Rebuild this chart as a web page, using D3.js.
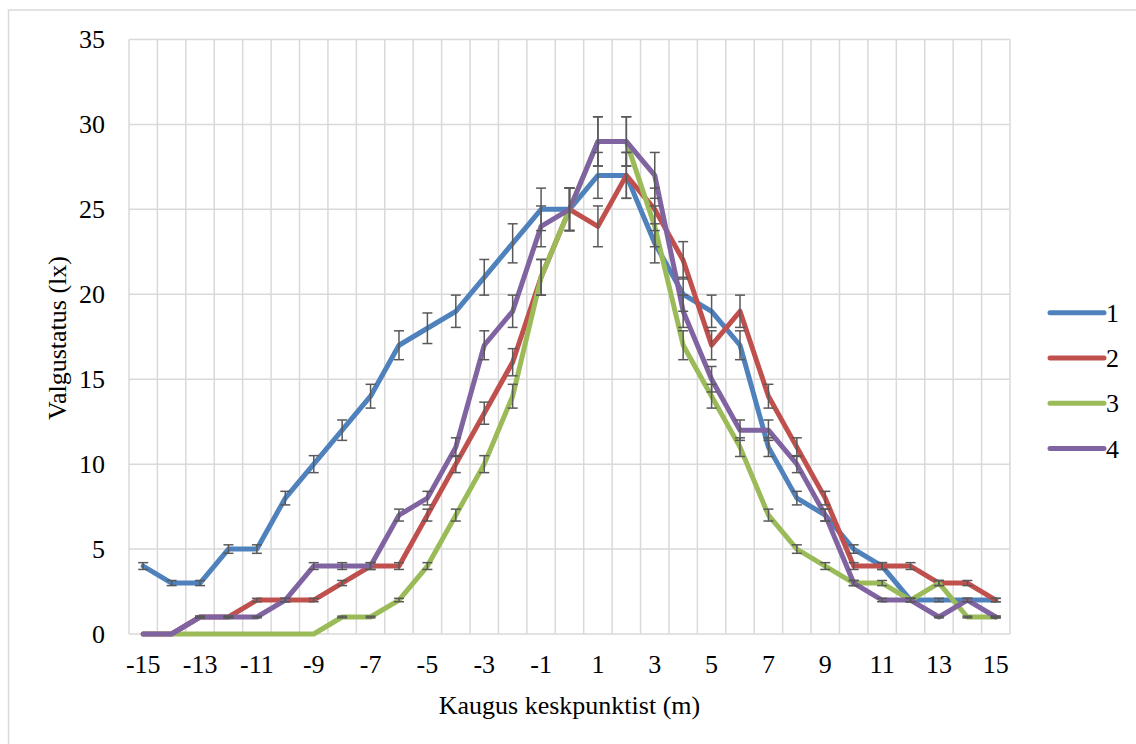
<!DOCTYPE html>
<html>
<head>
<meta charset="utf-8">
<script src="https://cdn.jsdelivr.net/npm/d3@7"></script>
<style>
  body { margin: 0; background: #fff; }
  svg text { font-family: "Times New Roman", "Liberation Serif", Tinos, "DejaVu Serif", "Noto Serif", serif; }
</style>
</head>
<body>
<svg width="1136" height="744"></svg>
<script>
// kaugused keskpunktist (m)
var distances = d3.range(-15, 16);
var xTickLabels = [-15, -13, -11, -9, -7, -5, -3, -1, 1, 3, 5, 7, 9, 11, 13, 15];
var yTicks = [0, 5, 10, 15, 20, 25, 30, 35];

// mõõtmiste seeriad
var seriesNames = ["1", "2", "3", "4"];
var s1 = [4, 3, 3, 5, 5, 8, 10, 12, 14, 17, 18, 19, 21, 23, 25, 25, 27, 27, 23, 20, 19, 17, 11, 8, 7, 5, 4, 2, 2, 2, 2];
var s2 = [0, 0, 1, 1, 2, 2, 2, 3, 4, 4, 7, 10, 13, 16, 21, 25, 24, 27, 25, 22, 17, 19, 14, 11, 8, 4, 4, 4, 3, 3, 2];
var s3 = [0, 0, 0, 0, 0, 0, 0, 1, 1, 2, 4, 7, 10, 14, 21, 25, 29, 29, 24, 17, 14, 11, 7, 5, 4, 3, 3, 2, 3, 1, 1];
var s4 = [0, 0, 1, 1, 1, 2, 4, 4, 4, 7, 8, 11, 17, 19, 24, 25, 29, 29, 27, 19, 15, 12, 12, 10, 7, 3, 2, 2, 1, 2, 1];
var seriesValues = [s1, s2, s3, s4];
var errorPct = 0.05; // veapiirid 5%

var svg = d3.select("svg"),
    margin = {top: 39.5, left: 129, right: 126, bottom: 110},
    width = +svg.attr("width") - margin.left - margin.right,
    height = +svg.attr("height") - margin.top - margin.bottom;

// välimine raam
svg.append("rect")
    .attr("x", 8.5).attr("y", 10)
    .attr("width", 1140).attr("height", 760)
    .attr("fill", "none")
    .attr("stroke", "#d9d9d9")
    .attr("stroke-width", 1.5);

var g = svg.append("g").attr("transform", "translate(" + margin.left + "," + margin.top + ")");

var x = d3.scaleBand()
    .domain(distances)
    .range([0, width]);

var y = d3.scaleLinear()
    .domain([0, 35])
    .range([height, 0]);

var color = d3.scaleOrdinal()
    .domain(seriesNames)
    .range(["#4f81bd", "#c0504d", "#9bbb59", "#8064a2"]);

function cx(d) { return x(d) + x.bandwidth() / 2; }

// vertikaalsed ruudujooned kategooriate vahel
g.append("g")
    .selectAll("line")
    .data(d3.range(distances.length + 1))
    .enter().append("line")
    .attr("x1", function(i) { return i * x.bandwidth(); })
    .attr("x2", function(i) { return i * x.bandwidth(); })
    .attr("y1", 0)
    .attr("y2", height)
    .attr("stroke", "#d9d9d9")
    .attr("stroke-width", 1.5);

// horisontaalsed ruudujooned
g.append("g")
    .selectAll("line")
    .data(yTicks)
    .enter().append("line")
    .attr("x1", 0)
    .attr("x2", width)
    .attr("y1", function(d) { return y(d); })
    .attr("y2", function(d) { return y(d); })
    .attr("stroke", "#d9d9d9")
    .attr("stroke-width", 1.5);

// Y telg
var yAxis = g.append("g")
    .call(d3.axisLeft(y).tickValues(yTicks).tickSize(0).tickPadding(24));
yAxis.attr("font-family", null).attr("font-size", null);
yAxis.select(".domain").remove();
yAxis.selectAll("text")
    .attr("font-size", 26)
    .attr("fill", "#000");

// X telg
var xAxis = g.append("g")
    .attr("transform", "translate(0," + height + ")")
    .call(d3.axisBottom(x).tickValues(xTickLabels).tickSize(0).tickPadding(21));
xAxis.attr("font-family", null).attr("font-size", null);
xAxis.select(".domain").remove();
xAxis.selectAll("text")
    .attr("font-size", 26)
    .attr("fill", "#000");

// jooned
var line = d3.line()
    .x(function(d) { return cx(d.x); })
    .y(function(d) { return y(d.v); });

var data = seriesNames.map(function(name, i) {
    return {
        name: name,
        points: distances.map(function(d, j) { return {x: d, v: seriesValues[i][j]}; })
    };
});

g.append("g")
    .selectAll("path")
    .data(data)
    .enter().append("path")
    .attr("d", function(d) { return line(d.points); })
    .attr("fill", "none")
    .attr("stroke", function(d) { return color(d.name); })
    .attr("stroke-width", 5)
    .attr("stroke-linejoin", "round")
    .attr("stroke-linecap", "round");

// veapiirid
var errs = [];
data.forEach(function(s) {
    s.points.forEach(function(p) { if (p.v > 0) errs.push(p); });
});

var eb = g.append("g")
    .attr("stroke", "#595959")
    .attr("stroke-width", 1.5)
    .selectAll("g")
    .data(errs)
    .enter().append("g");

eb.append("line")
    .attr("x1", function(d) { return cx(d.x); })
    .attr("x2", function(d) { return cx(d.x); })
    .attr("y1", function(d) { return y(d.v * (1 + errorPct)); })
    .attr("y2", function(d) { return y(d.v * (1 - errorPct)); });

eb.append("line")
    .attr("x1", function(d) { return cx(d.x) - 5; })
    .attr("x2", function(d) { return cx(d.x) + 5; })
    .attr("y1", function(d) { return y(d.v * (1 + errorPct)); })
    .attr("y2", function(d) { return y(d.v * (1 + errorPct)); });

eb.append("line")
    .attr("x1", function(d) { return cx(d.x) - 5; })
    .attr("x2", function(d) { return cx(d.x) + 5; })
    .attr("y1", function(d) { return y(d.v * (1 - errorPct)); })
    .attr("y2", function(d) { return y(d.v * (1 - errorPct)); });

// telgede pealkirjad
svg.append("text")
    .attr("x", margin.left + width / 2)
    .attr("y", 714)
    .attr("text-anchor", "middle")
    .attr("font-size", 26)
    .text("Kaugus keskpunktist (m)");

svg.append("text")
    .attr("transform", "translate(66,338) rotate(-90)")
    .attr("text-anchor", "middle")
    .attr("font-size", 26)
    .text("Valgustatus (lx)");

// legend
var legend = svg.append("g")
    .selectAll("g")
    .data(seriesNames)
    .enter().append("g")
    .attr("transform", function(d, i) { return "translate(1050," + (312.7 + i * 45.3) + ")"; });

legend.append("line")
    .attr("x1", 0)
    .attr("x2", 54)
    .attr("stroke", color)
    .attr("stroke-width", 5)
    .attr("stroke-linecap", "round");

legend.append("text")
    .attr("x", 56)
    .attr("dy", "0.35em")
    .attr("font-size", 26)
    .text(function(d) { return d; });
</script>
</body>
</html>
